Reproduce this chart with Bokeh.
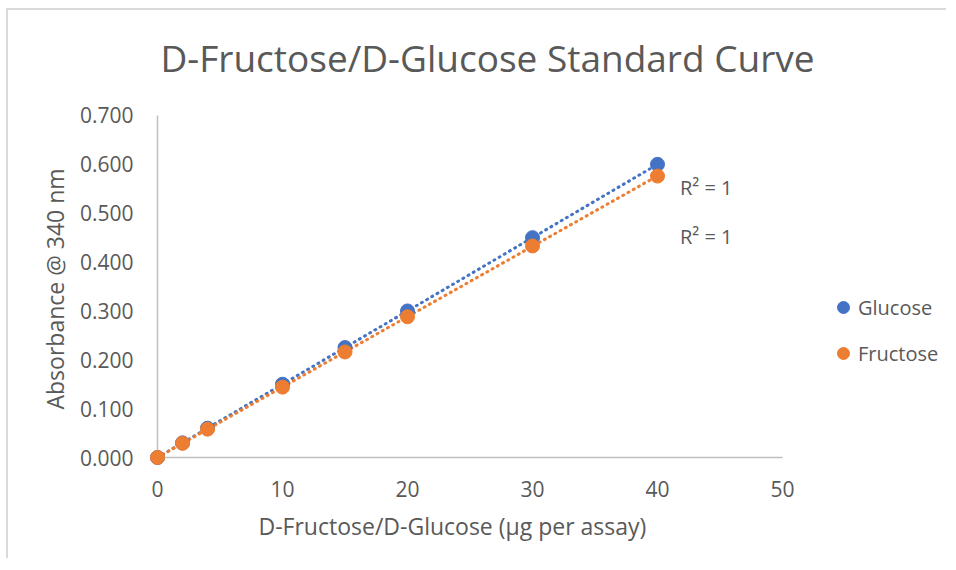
import numpy as np
from bokeh.plotting import figure
from bokeh.models import Range1d, FixedTicker, NumeralTickFormatter, Legend, LegendItem, ColumnDataSource, Title
from bokeh.core.properties import value
from bokeh.embed import file_html
from bokeh.resources import INLINE

# data
amount = [0, 2, 4, 10, 15, 20, 30, 40]
glucose = [0.000, 0.030, 0.060, 0.150, 0.225, 0.300, 0.450, 0.600]
fructose = [0.000, 0.029, 0.058, 0.144, 0.216, 0.288, 0.433, 0.576]
series_names = ["Glucose", "Fructose"]
r2_labels = ["R² = 1", "R² = 1"]
r2_x = [41.8, 41.8]
r2_y = [0.553, 0.452]
x_ticks = [0, 10, 20, 30, 40, 50]
y_ticks = [0.0, 0.1, 0.2, 0.3, 0.4, 0.5, 0.6, 0.7]
chart_title = "D-Fructose/D-Glucose Standard Curve"
x_title = "D-Fructose/D-Glucose (µg per assay)"
y_title = "Absorbance @ 340 nm"

FONT = "Open Sans"
TXT = "#595959"
BLUE = "#4472C4"
ORANGE = "#ED7D31"

p = figure(width=940, height=550, output_backend="svg", toolbar_location=None,
           x_range=Range1d(0, 63.28), y_range=Range1d(0, 0.9149),
           min_border_left=149, min_border_top=0, min_border_right=0, min_border_bottom=103)
p.styles = {"border-top": "2px solid #d9d9d9", "border-left": "2px solid #d9d9d9",
            "margin-left": "6px", "margin-top": "8px"}
p.outline_line_color = None
p.xgrid.grid_line_color = None
p.ygrid.grid_line_color = None
p.background_fill_color = "white"
p.border_fill_color = "white"

for ax in (p.xaxis[0], p.yaxis[0]):
    ax.axis_line_color = "#bfbfbf"
    ax.axis_line_width = 1.5
    ax.major_tick_line_color = None
    ax.minor_tick_line_color = None
    ax.major_label_text_font = FONT
    ax.major_label_text_font_size = "21px"
    ax.major_label_text_color = TXT

p.xaxis.bounds = (x_ticks[0], x_ticks[-1])
p.yaxis.bounds = (y_ticks[0], y_ticks[-1])
p.xaxis.ticker = FixedTicker(ticks=x_ticks)
p.yaxis.ticker = FixedTicker(ticks=y_ticks)
p.yaxis.formatter = NumeralTickFormatter(format="0.000")
p.xaxis.major_label_standoff = 17
p.yaxis.major_label_standoff = 18

# axis titles, centred on the axis spans
xt = Title(text=x_title, align="left", offset=101, standoff=17,
           text_font=FONT, text_font_size="23px", text_font_style="normal", text_color=TXT)
p.add_layout(xt, "below")
yt = Title(text=y_title, align="left", offset=48, standoff=11,
           text_font=FONT, text_font_size="23px", text_font_style="normal", text_color=TXT)
p.add_layout(yt, "left")

# chart title
p.text(x=[26.4], y=[0.8187], text=[chart_title], text_font=value(FONT), text_font_size="37px",
       text_color=TXT, text_baseline="middle", text_align="center")

# trendlines (linear fits)
xs = np.array(amount, dtype=float)
xline = np.array([xs.min(), xs.max()])
renderers = []
for ys, col in ((glucose, BLUE), (fructose, ORANGE)):
    m, b = np.polyfit(xs, np.array(ys), 1)
    p.line(xline, m * xline + b, line_color=col, line_width=3, line_dash="1 5", line_cap="round")

for ys, col in ((glucose, BLUE), (fructose, ORANGE)):
    r = p.scatter(amount, ys, size=14, fill_color=col, line_color=col)
    r.level = "overlay"
    renderers.append(r)

src = ColumnDataSource(dict(x=r2_x, y=r2_y, t=r2_labels))
p.text(x="x", y="y", text="t", source=src, text_font=value(FONT), text_font_size="20px",
       text_color=TXT, text_baseline="middle", text_align="left")

legend = Legend(items=[LegendItem(label=n, renderers=[r]) for n, r in zip(series_names, renderers)],
                location=(671, 89), margin=0, padding=0, spacing=16, label_standoff=0,
                glyph_width=30, glyph_height=30, border_line_color=None, background_fill_alpha=0,
                label_text_font=FONT, label_text_font_size="20px", label_text_color=TXT)
p.add_layout(legend, "center")

open("out.html", "w").write(file_html(p, INLINE))
